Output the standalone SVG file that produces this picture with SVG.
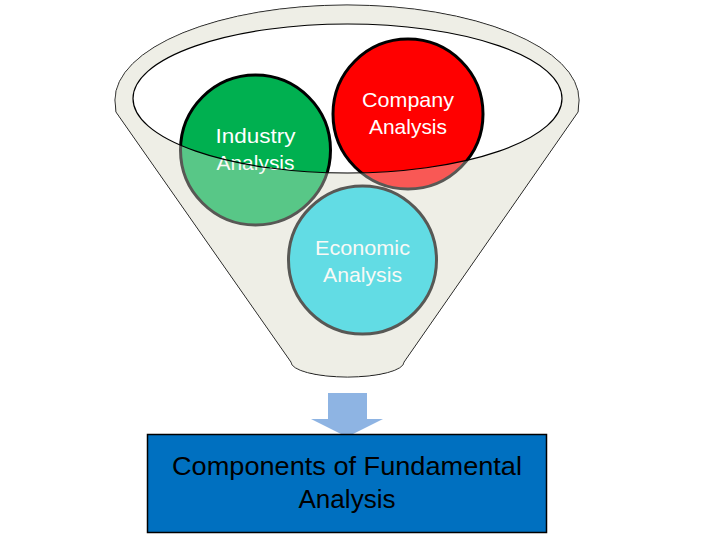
<svg xmlns="http://www.w3.org/2000/svg" width="714" height="548" viewBox="0 0 714 548">
<style>
.funnel{fill:#EEEEE6;stroke:#000;stroke-width:1}
.rim{fill:none;stroke:#000;stroke-width:1.2}
.circ{stroke:#000;stroke-width:3}
.lbl{font-family:"Liberation Sans",Arial,sans-serif;font-size:21px;fill:#fff;text-anchor:middle}
.big{font-family:"Liberation Sans",Arial,sans-serif;font-size:25px;fill:#000;text-anchor:middle}
</style>
<rect width="714" height="548" fill="#fff"/>
<g id="funnel-back">
<path class="funnel" d="M116,112 L115,100 A232,95 0 0 1 579,100 L578,112 L404,362 A56.5,15 0 0 1 291,362 Z"/>
<ellipse cx="347.5" cy="98.5" rx="214.5" ry="74.5" fill="#fff" stroke="none"/>
</g>
<g id="industry">
<circle class="circ" cx="255.5" cy="150" r="75" fill="#00B050"/>
<text class="lbl" x="255.5" y="143" textLength="80" lengthAdjust="spacingAndGlyphs">Industry</text>
<text class="lbl" x="255.5" y="170" textLength="78" lengthAdjust="spacingAndGlyphs">Analysis</text>
</g>
<g id="company">
<circle class="circ" cx="408" cy="114" r="75" fill="#FF0000"/>
<text class="lbl" x="408" y="107" textLength="92" lengthAdjust="spacingAndGlyphs">Company</text>
<text class="lbl" x="408" y="134" textLength="78" lengthAdjust="spacingAndGlyphs">Analysis</text>
</g>
<g id="economic">
<circle class="circ" cx="362.5" cy="260" r="74" fill="#10D2E2"/>
<text class="lbl" x="362.5" y="255" textLength="95" lengthAdjust="spacingAndGlyphs">Economic</text>
<text class="lbl" x="362.5" y="282" textLength="79" lengthAdjust="spacingAndGlyphs">Analysis</text>
</g>
<g id="funnel-front">
<path d="M116,112 L115,100 A232,95 0 0 1 579,100 L578,112 L404,362 A56.5,15 0 0 1 291,362 Z M133,98.5 A214.5,74.5 0 1 0 562,98.5 A214.5,74.5 0 1 0 133,98.5 Z" fill="#EEEEE6" fill-opacity="0.37" fill-rule="evenodd"/>
<ellipse class="rim" cx="347.5" cy="98.5" rx="214.5" ry="74.5"/>
</g>
<g id="connectors">
<path d="M328,393 L367,393 L367,419 L383,419 L347,437 L311,419 L328,419 Z" fill="#8EB4E3"/>
</g>
<g id="result">
<rect x="147.5" y="434.5" width="399" height="98" fill="#0070C0" stroke="#000" stroke-width="1.5"/>
<text class="big" x="347" y="475" textLength="350" lengthAdjust="spacingAndGlyphs">Components of Fundamental</text>
<text class="big" x="347" y="508" textLength="97" lengthAdjust="spacingAndGlyphs">Analysis</text>
</g>
</svg>
